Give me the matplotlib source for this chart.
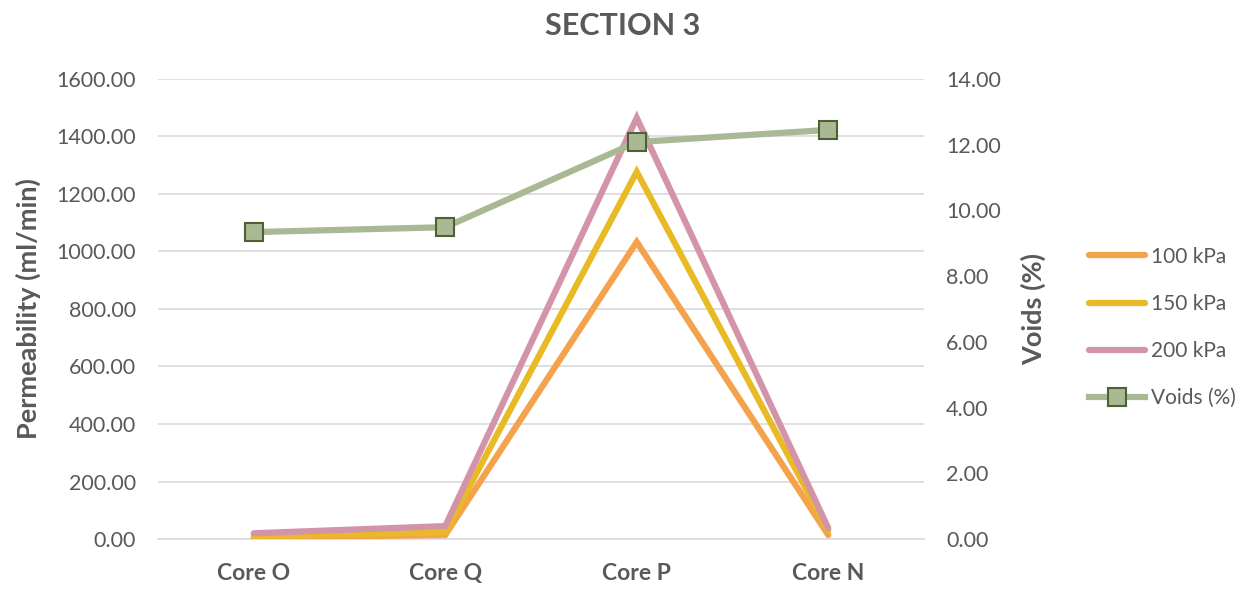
import matplotlib
matplotlib.use("Agg")
import matplotlib.pyplot as plt
from matplotlib.ticker import FormatStrFormatter

# Data
cores = ["Core O", "Core Q", "Core P", "Core N"]
perm_100 = [5, 14, 1033, 14]
perm_150 = [10, 24, 1277, 30]
perm_200 = [20, 45, 1465, 38]
voids = [9.34, 9.49, 12.08, 12.45]

plt.rcParams["font.family"] = ["Lato", "DejaVu Sans"]
text_col = "#595959"

fig = plt.figure(figsize=(12.5, 5.92), dpi=100)
ax = fig.add_axes([0.1264, 0.0895, 0.6128, 0.7771])
ax2 = ax.twinx()

x = list(range(len(cores)))
lw = 4.5
l1, = ax.plot(x, perm_100, color="#F4A24B", lw=lw, solid_capstyle="round", solid_joinstyle="miter", label="100 kPa", zorder=3)
l2, = ax.plot(x, perm_150, color="#E8BA26", lw=lw, solid_capstyle="round", solid_joinstyle="miter", label="150 kPa", zorder=3)
l3, = ax.plot(x, perm_200, color="#D394A9", lw=lw, solid_capstyle="round", solid_joinstyle="miter", label="200 kPa", zorder=3)
l4, = ax2.plot(x, voids, color="#A8B994", lw=lw, marker="s", markersize=13,
               markerfacecolor="#A8B994", markeredgecolor="#4D6133", markeredgewidth=1.5,
               label="Voids (%)", zorder=4)

ax.set_xlim(-0.5, 3.5)
ax.set_ylim(0, 1600)
ax2.set_ylim(0, 14)
ax.set_yticks(range(0, 1601, 200))
ax2.set_yticks(range(0, 15, 2))
ax.yaxis.set_major_formatter(FormatStrFormatter("%.2f"))
ax2.yaxis.set_major_formatter(FormatStrFormatter("%.2f"))
ax.set_xticks(x)
ax.set_xticklabels(cores, fontsize=16.5, fontweight="bold", color=text_col)

for a in (ax, ax2):
    for s in a.spines.values():
        s.set_visible(False)
    a.tick_params(axis="y", length=0, labelsize=15.5, labelcolor=text_col, pad=16)
ax.tick_params(axis="x", length=0, pad=17)
ax.spines["bottom"].set_visible(True)
ax.spines["bottom"].set_color("#d9d9d9")
ax.spines["bottom"].set_linewidth(1.2)

ax.grid(axis="y", color="#d9d9d9", lw=1.2, zorder=0)
ax.set_axisbelow(True)

ax.set_ylabel("Permeability (ml/min)", fontsize=19.5, fontweight="bold", color=text_col)
ax2.set_ylabel("Voids (%)", fontsize=19.5, fontweight="bold", color=text_col)
ax.yaxis.set_label_coords(-0.153, 0.5)
ax2.yaxis.set_label_coords(1.127, 0.5)

fig.suptitle("SECTION 3", x=0.498, y=0.98, fontsize=22, fontweight="bold", color=text_col)

fig.legend(handles=[l1, l2, l3, l4], loc="center left", bbox_to_anchor=(0.856, 0.447),
           frameon=False, fontsize=15, labelcolor=text_col, handlelength=2.7,
           handletextpad=0.3, labelspacing=1.3)

fig.savefig("out.png", dpi=100)
